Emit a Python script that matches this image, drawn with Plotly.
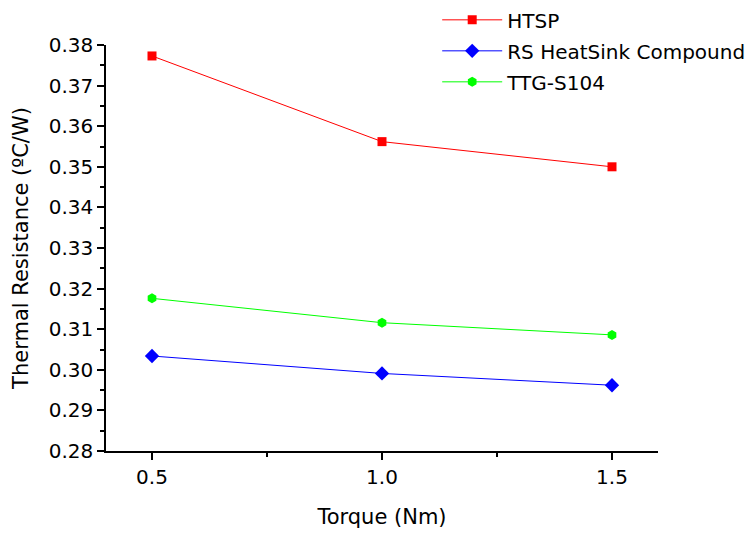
import plotly.graph_objects as go

torque = [0.5, 1.0, 1.5]
htsp = [0.3773, 0.3562, 0.3500]
rs_compound = [0.3034, 0.2991, 0.2962]
ttg_s104 = [0.3176, 0.3116, 0.3086]

series_names = ["HTSP", "RS HeatSink Compound", "TTG-S104"]
series_values = [htsp, rs_compound, ttg_s104]
colors = ["#FF0000", "#0000FF", "#00FF00"]
symbols = ["square", "diamond", "hexagon"]
sizes = [9, 11, 10]

FONT = "DejaVu Sans"

fig = go.Figure()
for i, (name, vals, c, s, sz) in enumerate(zip(series_names, series_values, colors, symbols, sizes)):
    fig.add_trace(go.Scatter(
        x=torque, y=vals, name=name, mode="lines+markers",
        legendgroup=f"g{i}",
        line=dict(color=c, width=1),
        marker=dict(symbol=s, size=sz, color=c, line=dict(width=0)),
    ))

fig.update_layout(
    width=756, height=537,
    paper_bgcolor="white", plot_bgcolor="white",
    margin=dict(l=98, r=106, t=37, b=94, autoexpand=False),
    font=dict(family=FONT, size=20, color="black"),
    showlegend=True,
    legend=dict(
        x=0.6, y=1.11, xanchor="left", yanchor="top",
        bgcolor="rgba(0,0,0,0)", font=dict(family=FONT, size=20),
        traceorder="grouped", tracegroupgap=2, itemwidth=60,
    ),
    xaxis=dict(
        range=[0.4, 1.6], tickvals=[0.5, 1.0, 1.5], ticktext=["0.5", "1.0", "1.5"],
        showline=True, linecolor="black", linewidth=1.5, mirror=False,
        ticks="outside", ticklen=7, tickwidth=1.5, tickcolor="black",
        minor=dict(tickvals=[0.75, 1.25], ticks="outside", ticklen=4, tickwidth=1.5, tickcolor="black"),
        showgrid=False, zeroline=False,
        tickfont=dict(family=FONT, size=20),
        title=dict(text="Torque (Nm)", font=dict(family=FONT, size=21), standoff=22),
    ),
    yaxis=dict(
        range=[0.28, 0.38], dtick=0.01, tick0=0.28, tickformat=".2f",
        showline=True, linecolor="black", linewidth=1.5, mirror=False,
        ticks="outside", ticklen=7, tickwidth=1.5, tickcolor="black",
        minor=dict(dtick=0.005, ticks="outside", ticklen=4, tickwidth=1.5, tickcolor="black"),
        showgrid=False, zeroline=False,
        tickfont=dict(family=FONT, size=20),
        title=dict(text="Thermal Resistance (ºC/W)", font=dict(family=FONT, size=21), standoff=14),
    ),
)

fig.write_html("out.html")
